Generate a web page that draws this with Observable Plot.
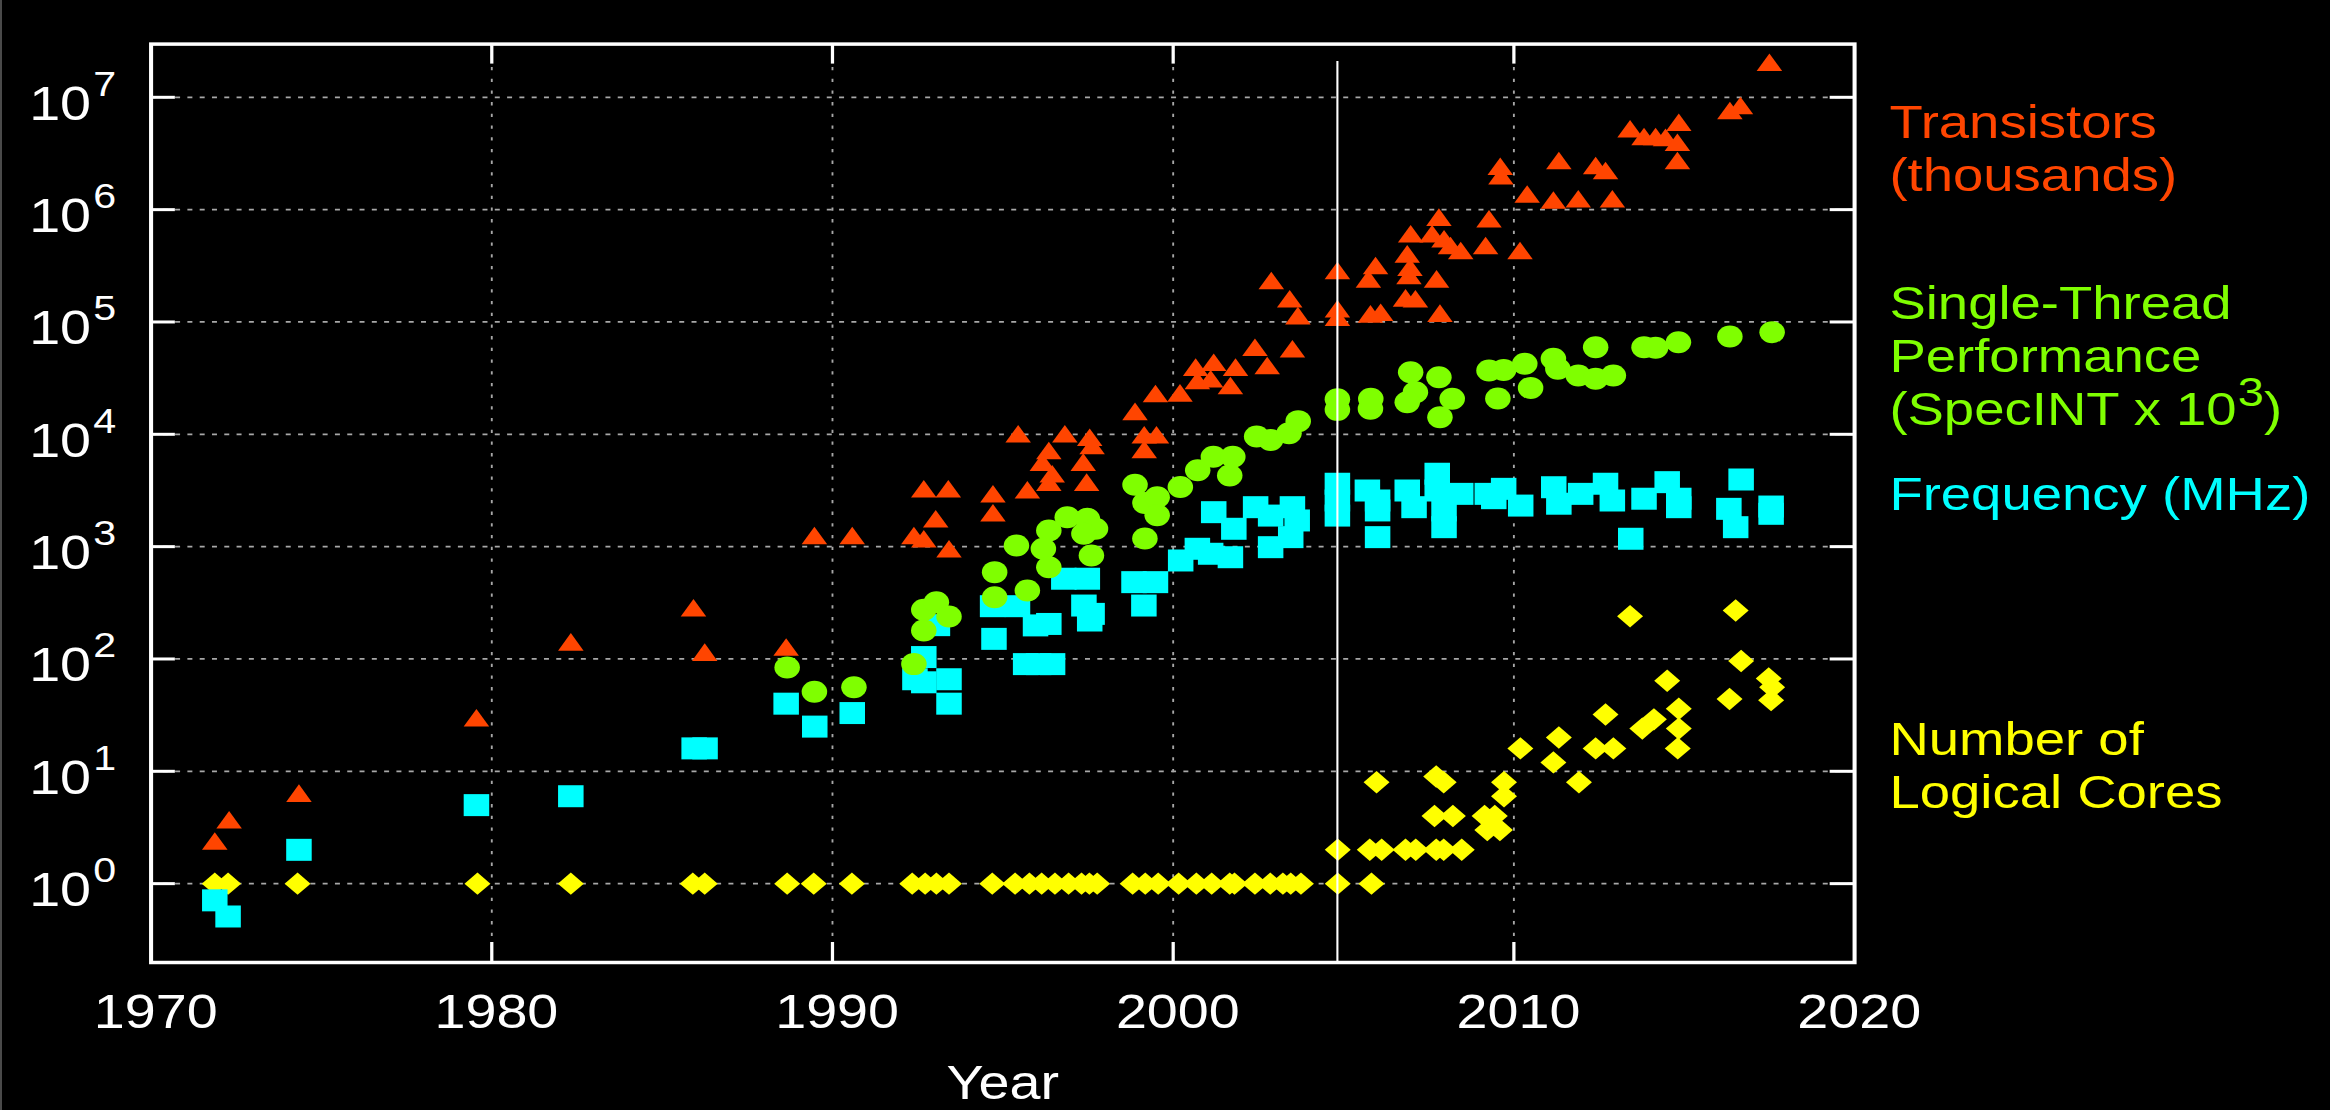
<!DOCTYPE html>
<html>
<head>
<meta charset="utf-8">
<script src="https://cdn.jsdelivr.net/npm/d3@7"></script>
<script src="https://cdn.jsdelivr.net/npm/@observablehq/plot@0.6"></script>
<style>
  html, body { margin: 0; padding: 0; background: #000; overflow: hidden; }
  #chart { position: relative; width: 2330px; height: 1110px; }
  #edge { position: absolute; left: 0; top: 0; width: 2px; height: 1110px; background: #4a4a4a; }
</style>
</head>
<body>
<div id="chart"><div id="edge"></div></div>
<script>
// ---------------- DATA ----------------
// [year, transistors in thousands]
const transistors = [
  [1971.87, 2.4], [1972.29, 3.7], [1974.34, 6.4], [1979.55, 30], [1982.32, 142],
  [1985.92, 286], [1986.25, 115], [1988.64, 128], [1989.47, 1257], [1990.58, 1257],
  [1992.39, 1257], [1992.68, 1175], [1992.68, 3273], [1993.40, 3273], [1993.03, 1770],
  [1993.42, 957], [1994.71, 2953], [1994.71, 2000], [1995.45, 10100], [1995.72, 3206],
  [1996.35, 7180], [1996.16, 5650], [1996.45, 4456], [1996.35, 3750], [1996.82, 10100],
  [1997.55, 9420], [1997.62, 7950], [1997.36, 5650], [1997.46, 3750], [1998.88, 16000],
  [1999.15, 9900], [1999.51, 9900], [1999.15, 7350], [1999.48, 23100], [2000.20, 23400],
  [2000.66, 39600], [2000.71, 30100], [2001.19, 43800], [2001.10, 31200], [2001.83, 39600],
  [2001.68, 27200], [2002.40, 59600], [2002.76, 41000], [2002.88, 234000], [2003.42, 160800],
  [2003.66, 114000], [2003.50, 57700], [2004.82, 287000], [2004.82, 131000], [2004.82, 110000],
  [2005.94, 318000], [2005.73, 242000], [2005.79, 118000], [2006.09, 122000], [2006.97, 610000],
  [2006.87, 404000], [2006.95, 307000], [2006.92, 259000], [2006.82, 164000], [2007.11, 161000],
  [2007.80, 857000], [2007.60, 610000], [2007.95, 550000], [2008.14, 480000], [2008.44, 433000],
  [2007.73, 242000], [2007.83, 120000], [2009.27, 829000], [2009.17, 480000], [2009.60, 2430000],
  [2009.62, 2000000], [2010.18, 433000], [2010.39, 1380000], [2011.32, 2740000], [2011.16, 1220000],
  [2011.89, 1250000], [2012.40, 2470000], [2012.69, 2230000], [2012.89, 1250000], [2013.41, 5250000],
  [2013.82, 4480000], [2014.16, 4480000], [2014.45, 4400000], [2014.84, 6000000], [2014.80, 3980000],
  [2014.80, 2740000], [2016.34, 7630000], [2016.65, 8450000], [2017.50, 20500000]
];

// [year, single-thread performance (SpecINT x 10^3)]
const singleThread = [
  [1988.67, 84], [1989.47, 51], [1990.63, 56], [1992.39, 90], [1992.68, 274],
  [1993.05, 320], [1993.42, 239], [1992.68, 179], [1994.76, 593], [1994.76, 355],
  [1995.40, 1023], [1995.72, 407], [1996.35, 1393], [1996.19, 957], [1996.35, 656],
  [1996.89, 1829], [1997.48, 1770], [1997.72, 1442], [1997.38, 1300], [1997.60, 834],
  [1998.88, 3550], [1999.17, 2450], [1999.53, 2750], [1999.53, 1900], [1999.17, 1180],
  [2000.21, 3400], [2000.72, 4780], [2001.18, 6300], [2001.75, 6300], [2001.66, 4300],
  [2002.45, 9550], [2002.86, 8900], [2003.40, 10200], [2003.67, 13100], [2004.82, 20500],
  [2004.82, 16500], [2005.80, 20700], [2005.79, 16900], [2006.97, 35700], [2007.11, 23700],
  [2006.87, 19300], [2007.80, 32200], [2008.19, 20700], [2007.83, 14200], [2009.27, 37000],
  [2009.70, 37300], [2009.53, 20800], [2010.32, 42400], [2010.49, 25900], [2011.16, 47000],
  [2011.29, 38300], [2011.89, 33400], [2012.40, 31200], [2012.92, 33400], [2012.40, 59600],
  [2013.82, 59600], [2014.16, 59000], [2014.83, 66000], [2016.34, 74300], [2017.58, 81100]
];

// [year, frequency in MHz]
const frequency = [
  [1971.87, 0.71], [1972.26, 0.51], [1974.34, 2.0], [1979.55, 5.0], [1982.32, 6.0],
  [1985.94, 16], [1986.26, 16], [1988.64, 40], [1989.48, 25], [1990.58, 33],
  [1992.42, 66], [1992.68, 104], [1992.68, 62], [1993.08, 200], [1993.42, 66],
  [1993.42, 40], [1994.74, 151], [1994.70, 295], [1995.43, 295], [1995.96, 199],
  [1996.35, 205], [1995.67, 90], [1996.05, 90], [1996.46, 90], [1996.79, 518],
  [1997.48, 518], [1997.38, 299], [1997.62, 252], [1997.55, 220], [1998.85, 483],
  [1999.48, 483], [1999.14, 299], [2000.22, 753], [2000.71, 957], [2001.10, 864],
  [2001.68, 805], [2001.19, 2027], [2001.78, 1442], [2002.42, 2245], [2002.86, 989],
  [2002.86, 1890], [2003.50, 2245], [2003.64, 1710], [2003.45, 1215], [2004.82, 3630],
  [2004.82, 2575], [2004.82, 1890], [2005.70, 3160], [2006.00, 2575], [2006.00, 2100],
  [2006.00, 1215], [2006.87, 3160], [2007.07, 2245], [2007.75, 4456], [2007.75, 3160],
  [2007.95, 1490], [2007.95, 2100], [2008.44, 2950], [2009.22, 2950], [2009.41, 2700],
  [2009.70, 3270], [2010.20, 2320], [2011.17, 3380], [2011.32, 2410], [2011.96, 2950],
  [2012.69, 3630], [2012.89, 2575], [2013.82, 2670], [2014.50, 3750], [2014.84, 2670],
  [2014.84, 2245], [2013.43, 1175], [2016.67, 3960], [2016.31, 2170], [2016.51, 1490],
  [2017.55, 2275], [2017.55, 1960]
];

// [year, number of logical cores]
const logicalCores = [
  [1971.87, 1], [1972.26, 1], [1974.30, 1], [1979.58, 1], [1982.32, 1],
  [1985.90, 1], [1986.25, 1], [1988.67, 1], [1989.45, 1], [1990.57, 1],
  [1992.34, 1], [1992.72, 1], [1993.05, 1], [1993.42, 1], [1994.69, 1],
  [1995.36, 1], [1995.78, 1], [1996.14, 1], [1996.53, 1], [1996.93, 1],
  [1997.31, 1], [1997.54, 1], [1997.77, 1], [1998.81, 1], [1999.18, 1],
  [1999.56, 1], [2000.16, 1], [2000.68, 1], [2001.13, 1], [2001.66, 1],
  [2001.80, 1], [2002.40, 1], [2002.85, 1], [2003.22, 1], [2003.45, 1],
  [2003.75, 1], [2004.83, 1], [2005.82, 1],
  [2004.83, 2], [2005.77, 2], [2006.12, 2], [2005.97, 8], [2006.82, 2],
  [2007.12, 2], [2007.72, 2], [2007.94, 2], [2008.47, 2], [2007.67, 4],
  [2008.21, 4], [2007.72, 9], [2007.94, 8], [2009.14, 4], [2009.44, 4],
  [2009.22, 3], [2009.59, 3], [2009.71, 8], [2009.71, 6], [2010.19, 16],
  [2011.32, 20], [2011.16, 12], [2011.91, 8], [2012.40, 16], [2012.92, 16],
  [2012.69, 32], [2013.77, 24], [2014.11, 29], [2014.50, 64], [2014.84, 36],
  [2014.84, 24], [2014.81, 16], [2013.41, 240], [2016.51, 270], [2016.67, 96],
  [2016.33, 44], [2017.48, 67], [2017.58, 56], [2017.55, 43]
];

// Axes
const xDomain = [1970, 2020];
const xTicks = [1970, 1980, 1990, 2000, 2010, 2020];
const xGrid = [1980, 1990, 2000, 2010];
const yDomain = [0.1986, 2.976e7];
const yTicks = [1, 10, 100, 1e3, 1e4, 1e5, 1e6, 1e7];
const xLabel = "Year";

// Divider at the end of Dennard scaling
const dividerYear = [2004.82];
const dividerSpan = [0.1986, 2.08e7];

// Legend labels
const labelTransistors = "Transistors\n(thousands)";
const labelSingleThread = "Single-Thread\nPerformance\n(SpecINT x 10^3)";
const labelFrequency = "Frequency (MHz)";
const labelCores = "Number of\nLogical Cores";

// ---------------- STYLE / LAYOUT ----------------
const colors = { transistors: "#ff4500", single: "#7fff00", freq: "#00ffff", cores: "#ffff00" };
const STRETCH = 1.16;               // the reference is drawn horizontally stretched
const PAGE_W = 2330, PAGE_H = 1110;
const W = PAGE_W / STRETCH;
const FRAME_L = 150.5 / STRETCH, FRAME_R = 1854 / STRETCH, FRAME_T = 43.6, FRAME_B = 962;
const frameW = FRAME_R - FRAME_L, frameH = FRAME_B - FRAME_T;
const FONT = "'Liberation Sans', Arial, Helvetica, sans-serif";
const GRID = "#a8a8a8";

const rows = (pairs) => pairs.map(([year, value]) => ({year, value}));

const unit = (size) => Math.sqrt(size / Math.PI);
const squareSym = { draw(ctx, size) { const s = unit(size); ctx.rect(-s, -s, 2 * s, 2 * s); } };
const diamondSym = { draw(ctx, size) { const s = unit(size); ctx.moveTo(0, -s); ctx.lineTo(s, 0); ctx.lineTo(0, s); ctx.lineTo(-s, 0); ctx.closePath(); } };
const triangleSym = { draw(ctx, size) { const s = unit(size), h = s * 0.8; ctx.moveTo(0, -h); ctx.lineTo(s, h); ctx.lineTo(-s, h); ctx.closePath(); } };
const circleSym = { draw(ctx, size) { const s = unit(size); ctx.moveTo(s, 0); ctx.arc(0, 0, s, 0, 2 * Math.PI); ctx.closePath(); } };

const legendText = (label, color, dy) => Plot.text([label], {
  text: d => d, frameAnchor: "top-right", textAnchor: "start", lineAnchor: "top",
  dx: 30, dy, fill: color, fontSize: 47, lineHeight: 1.128
});

const svg = Plot.plot({
  width: W,
  height: PAGE_H,
  marginLeft: FRAME_L,
  marginRight: W - FRAME_R,
  marginTop: FRAME_T,
  marginBottom: PAGE_H - FRAME_B,
  style: { background: "#000", color: "#fff", fontFamily: FONT, overflow: "visible" },
  x: { domain: xDomain, axis: null },
  y: { type: "log", domain: yDomain, axis: null },
  marks: [
    // dotted grid
    Plot.ruleY(yTicks, { y: d => d, stroke: GRID, strokeWidth: 1.8, strokeDasharray: "4.3,6.3" }),
    Plot.ruleX(xGrid, { x: d => d, stroke: GRID, strokeWidth: 1.6, strokeDasharray: "3.3,8.4" }),
    // data
    Plot.dot(rows(logicalCores), { x: "year", y: "value", symbol: diamondSym, r: 11.2, fill: colors.cores, stroke: "none" }),
    Plot.dot(rows(frequency), { x: "year", y: "value", symbol: squareSym, r: 11, fill: colors.freq, stroke: "none" }),
    Plot.dot(rows(singleThread), { x: "year", y: "value", symbol: circleSym, r: 11, fill: colors.single, stroke: "none" }),
    Plot.dot(rows(transistors), { x: "year", y: "value", symbol: triangleSym, r: 11, fill: colors.transistors, stroke: "none" }),
    // divider
    Plot.ruleX(dividerYear, { x: d => d, y1: dividerSpan[0], y2: dividerSpan[1], stroke: "#fff", strokeWidth: 1.8 }),
    // inward ticks on all four sides
    Plot.ruleX(xGrid, { x: d => d, insetTop: frameH - 20, stroke: "#fff", strokeWidth: 2.8 }),
    Plot.ruleX(xGrid, { x: d => d, insetBottom: frameH - 20, stroke: "#fff", strokeWidth: 2.8 }),
    Plot.ruleY(yTicks, { y: d => d, insetRight: frameW - 21, stroke: "#fff", strokeWidth: 3 }),
    Plot.ruleY(yTicks, { y: d => d, insetLeft: frameW - 21, stroke: "#fff", strokeWidth: 3 }),
    Plot.frame({ stroke: "#fff", strokeWidth: 3.5 }),
    // axes labels
    Plot.axisX(xTicks, { anchor: "bottom", tickSize: 0, tickPadding: 31, fontSize: 48, dx: 4, fill: "#fff",
      tickFormat: d => String(d), label: null }),
    Plot.axisY(yTicks, { anchor: "left", tickSize: 0, tickPadding: 30, fontSize: 48, dy: 7, fill: "#fff",
      tickFormat: d => "10^" + Math.round(Math.log10(d)), label: null }),
    Plot.text([xLabel], { text: d => d, frameAnchor: "bottom", lineAnchor: "bottom", dy: 136, fontSize: 48, fill: "#fff" }),
    // legend labels at the right
    legendText(labelTransistors, colors.transistors, 56.3),
    legendText(labelSingleThread, colors.single, 236.8),
    legendText(labelFrequency, colors.freq, 427.8),
    legendText(labelCores, colors.cores, 673.3)
  ]
});

// superscripts ("10^7" -> 10 with raised 7)
const NS = "http://www.w3.org/2000/svg";
function supify(el, scale, raise, gap) {
  const m = el.textContent.match(/^(.*?)\^(\d+)(.*)$/);
  if (!m) return;
  el.textContent = "";
  el.appendChild(document.createTextNode(m[1]));
  const sup = document.createElementNS(NS, "tspan");
  sup.setAttribute("dy", -raise);
  sup.setAttribute("dx", gap);
  sup.setAttribute("font-size", scale + "em");
  sup.textContent = m[2];
  el.appendChild(sup);
  if (m[3]) {
    const post = document.createElementNS(NS, "tspan");
    post.setAttribute("dy", raise);
    post.textContent = m[3];
    el.appendChild(post);
  }
}
svg.querySelectorAll('g[aria-label="y-axis tick label"] text').forEach(el => supify(el, 0.74, 24, 2));
// remaining labels with a caret (the legend line)
svg.querySelectorAll("text, tspan").forEach(el => {
  if (el.children.length === 0 && el.textContent.includes("^")) supify(el, 0.86, 19, 1);
});

// stretch horizontally like the reference
svg.setAttribute("width", PAGE_W);
svg.setAttribute("height", PAGE_H);
svg.setAttribute("preserveAspectRatio", "none");
svg.style.width = PAGE_W + "px";
svg.style.height = PAGE_H + "px";
svg.style.maxWidth = "none";
svg.style.display = "block";

document.getElementById("chart").appendChild(svg);
</script>
</body>
</html>
